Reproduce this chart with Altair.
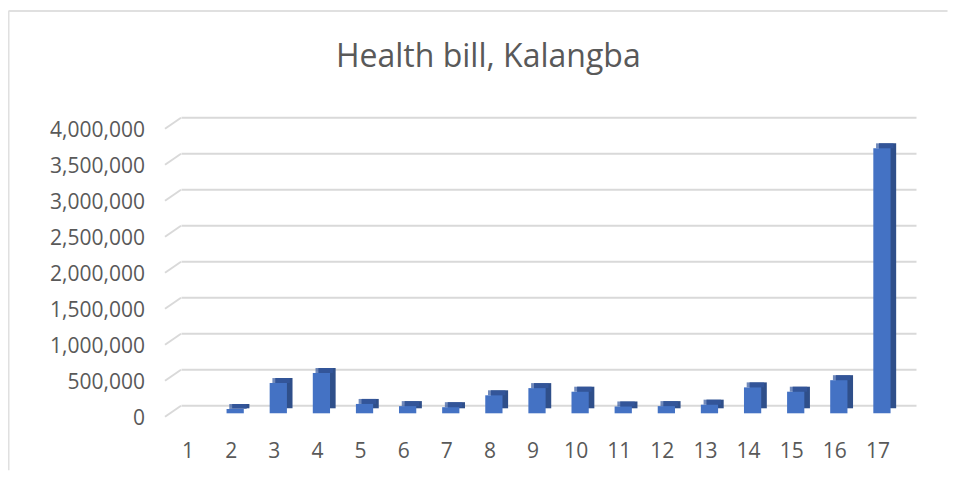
import altair as alt
import pandas as pd

categories = [str(i) for i in range(1, 18)]
values = [0, 60000, 420000, 560000, 130000, 100000, 85000, 250000, 350000,
          300000, 95000, 100000, 120000, 360000, 300000, 460000, 3680000]
tick_values = [0, 500000, 1000000, 1500000, 2000000, 2500000, 3000000, 3500000, 4000000]
title_text = "Health bill, Kalangba"

bars = pd.DataFrame({"cat": categories, "value": values})
grid = pd.DataFrame({"value": tick_values})

FONT = "Open Sans"
TXT = "#595959"
GRID = "#d9d9d9"

xscale = alt.Scale(domain=categories, paddingInner=0.6, paddingOuter=0.3)
yscale = alt.Scale(domain=[0, 4000000], nice=False)

x_enc = alt.X("cat:N", scale=xscale, sort=categories,
              axis=alt.Axis(title=None, domain=False, ticks=False, grid=False,
                            labelAngle=0, labelFont=FONT, labelFontSize=21,
                            labelColor=TXT, labelPadding=27, labelOffset=-4,
                            labelBaseline="top"))
y_axis = alt.Axis(title=None, domain=False, ticks=False, grid=False,
                  values=tick_values, format=",d", labelFont=FONT,
                  labelFontSize=21, labelColor=TXT, labelPadding=26,
                  labelOffset=5)
y_enc = alt.Y("value:Q", scale=yscale, axis=y_axis)

back_grid = alt.Chart(grid).mark_rule(color=GRID, strokeWidth=2, yOffset=-7.5).encode(
    y=y_enc, x=alt.value(11), x2=alt.value(746))
side_grid = alt.Chart(grid).mark_rule(color=GRID, strokeWidth=2, yOffset=3.5, y2Offset=-7.5).encode(
    y=y_enc, y2="value:Q", x=alt.value(-5.5), x2=alt.value(10.5))

side = alt.Chart(bars).mark_bar(color="#2F4F8A", xOffset=5.6, x2Offset=5.6,
                                yOffset=-5, y2Offset=-5).encode(x=x_enc, y=y_enc)
top = alt.Chart(bars).transform_filter("datum.value > 0").mark_tick(
    color="#3559A0", thickness=5, size=17.4, xOffset=2.8, yOffset=-2.5).encode(x=x_enc, y=y_enc)
front = alt.Chart(bars).mark_bar(color="#4472C4").encode(
    x=x_enc, y=y_enc, tooltip=["cat", alt.Tooltip("value:Q", format=",d")])

title = alt.Chart(pd.DataFrame({"t": [title_text]})).mark_text(
    font=FONT, fontSize=32, color=TXT, align="center", baseline="alphabetic").encode(
    text="t:N", x=alt.value(317.8), y=alt.value(-58.6))

border_left = alt.Chart(grid.head(1)).mark_rule(color="#e0e0e0", strokeWidth=2).encode(
    x=alt.value(-162), y=alt.value(-114.3), y2=alt.value(345))
border_top = alt.Chart(grid.head(1)).mark_rule(color="#e0e0e0", strokeWidth=2).encode(
    x=alt.value(-162), x2=alt.value(777), y=alt.value(-114.3))

chart = alt.layer(back_grid, side_grid, side, top, front, title, border_left, border_top).properties(
    width=733, height=288,
    autosize=alt.AutoSizeParams(type="none"),
    padding={"left": 162.5, "top": 117.3, "right": 44.5, "bottom": 57.7},
).configure(background="white", view=alt.ViewConfig(stroke=None))

chart.save("out.html", embed_options={"renderer": "svg", "actions": False})
